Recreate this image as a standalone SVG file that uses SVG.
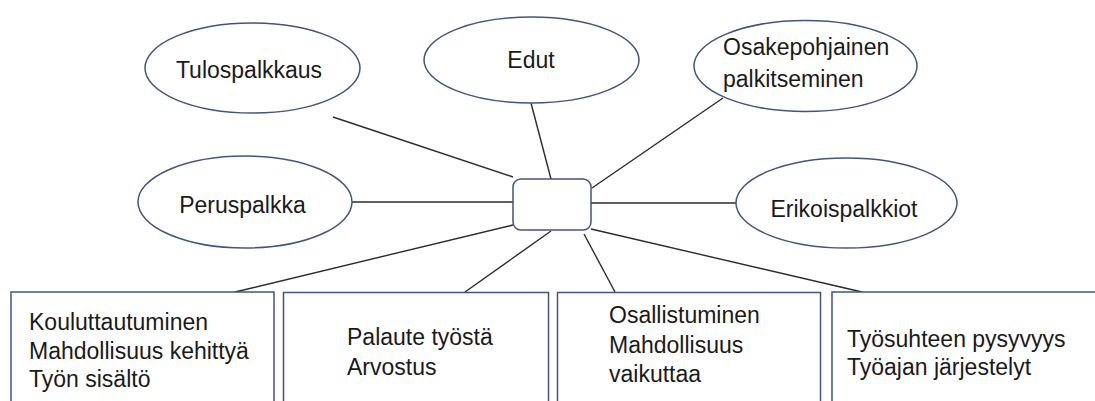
<svg xmlns="http://www.w3.org/2000/svg" width="1095" height="401" viewBox="0 0 1095 401">
<style>
.shape{fill:#fff;stroke:#41567d;stroke-width:1.5}
.conn line{stroke:#2b2b2b;stroke-width:1.4}
text{font-family:"Liberation Sans",Arial,sans-serif;font-size:23px;fill:#1a1a1a}
.c{text-anchor:middle}
</style>
<rect width="1095" height="401" fill="#fff"/>
<g id="connectors" class="conn">
<line x1="333" y1="117" x2="513" y2="177"/>
<line x1="531" y1="103" x2="551" y2="179"/>
<line x1="723" y1="98" x2="592" y2="188"/>
<line x1="352" y1="202" x2="513" y2="202"/>
<line x1="591" y1="203" x2="736" y2="203"/>
<line x1="513" y1="225" x2="235" y2="292"/>
<line x1="551" y1="231" x2="465" y2="292"/>
<line x1="584" y1="234" x2="615" y2="292"/>
<line x1="591" y1="229" x2="862" y2="292"/>
</g>
<g id="center"><rect class="shape" x="513" y="179" width="78" height="51" rx="8"/></g>
<g id="tulospalkkaus"><ellipse class="shape" cx="252.5" cy="68" rx="107.5" ry="45"/><text class="c" x="249" y="78">Tulospalkkaus</text></g>
<g id="edut"><ellipse class="shape" cx="531.5" cy="60" rx="107.5" ry="43"/><text class="c" x="531" y="68">Edut</text></g>
<g id="osakepohjainen"><ellipse class="shape" cx="805.5" cy="66" rx="111.5" ry="45.5"/><text x="723" y="55">Osakepohjainen</text><text x="723" y="87">palkitseminen</text></g>
<g id="peruspalkka"><ellipse class="shape" cx="245" cy="202" rx="107" ry="46"/><text class="c" x="242.5" y="213">Peruspalkka</text></g>
<g id="erikoispalkkiot"><ellipse class="shape" cx="846.5" cy="203" rx="110.5" ry="45"/><text class="c" x="844" y="217">Erikoispalkkiot</text></g>
<g id="box1"><rect class="shape" x="11" y="292" width="263" height="130"/><text x="29" y="330">Kouluttautuminen</text><text x="29" y="359">Mahdollisuus kehittyä</text><text x="29" y="387">Työn sisältö</text></g>
<g id="box2"><rect class="shape" x="283.5" y="292.5" width="265" height="130"/><text x="347" y="345">Palaute työstä</text><text x="347" y="375">Arvostus</text></g>
<g id="box3"><rect class="shape" x="557.5" y="292.5" width="263" height="130"/><text x="609" y="323">Osallistuminen</text><text x="609" y="353">Mahdollisuus</text><text x="609" y="382">vaikuttaa</text></g>
<g id="box4"><rect class="shape" x="832" y="292" width="280" height="130"/><text x="847" y="347">Työsuhteen pysyvyys</text><text x="847" y="375">Työajan järjestelyt</text></g>
</svg>
